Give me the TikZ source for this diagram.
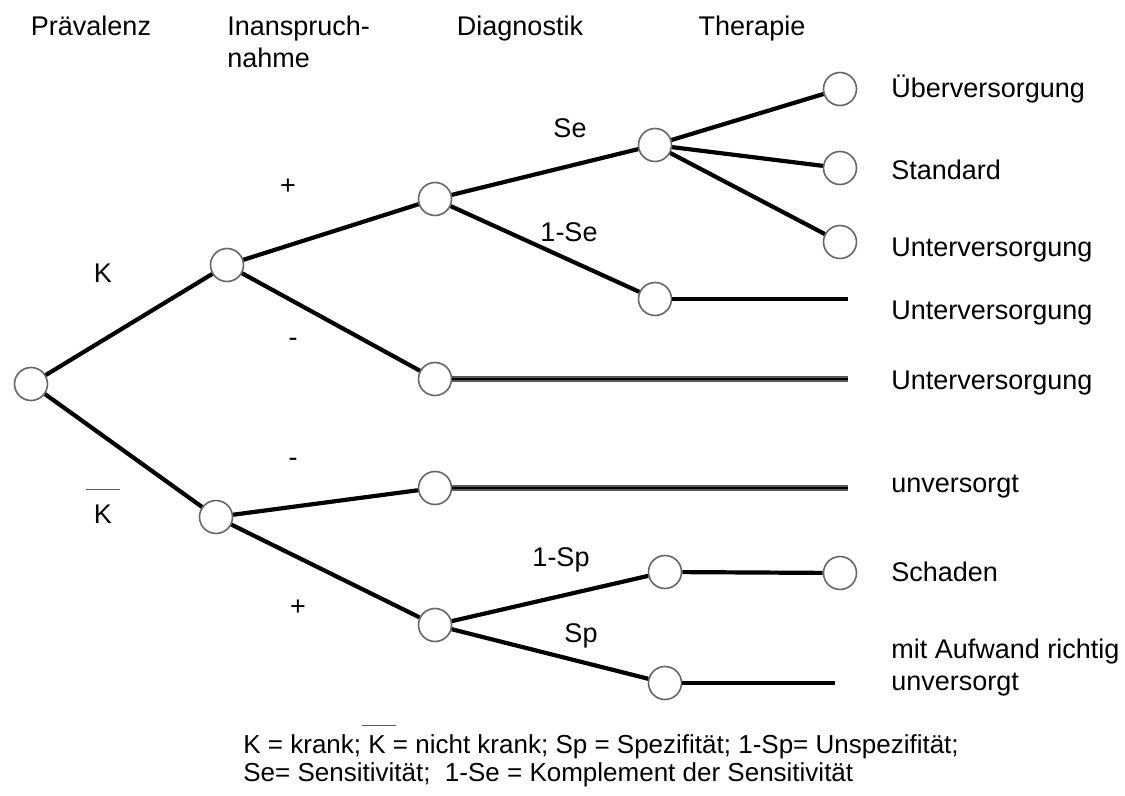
\documentclass[tikz,border=0pt]{standalone}
\usepackage{fontspec}
\setmainfont{Liberation Sans}
% K with an overbar, used in the legend
\newcommand\overK{\makebox[0pt][l]{\hspace{-3pt}\raisebox{13.5pt}{\color{black!65}\rule{17pt}{0.7pt}}}K}
\begin{document}
\begin{tikzpicture}[x=0.5pt,y=-0.5pt,
  state/.style={circle,draw=black!60,line width=0.8pt,minimum size=16.5pt,inner sep=0pt,fill=white},
  branch/.style={line width=2.1pt,black},
  outer/.style={line width=2.6pt,black!65},
  inner/.style={line width=0.9pt,black},
  lbl/.style={font=\fontsize{13.5}{16}\selectfont,inner sep=0pt},
  head/.style={lbl,anchor=base},
  leaf/.style={lbl,anchor=west},
  legend/.style={font=\fontsize{13}{15}\selectfont,inner sep=0pt,anchor=base west}]
\useasboundingbox (0,0) rectangle (1125,796);

% column headings
\node[head] (hprev) at (91,36) {Prävalenz};
\node[head,anchor=base west] (hinan1) at (227,36) {Inanspruch-};
\node[head,anchor=base west] (hinan2) at (227,68) {nahme};
\node[head] (hdiag) at (520,36) {Diagnostik};
\node[head] (hther) at (752,36) {Therapie};

% decision nodes
\node[state] (r)   at (31,384) {};
\node[state] (k)   at (227,265) {};
\node[state] (nk)  at (216,517) {};
\node[state] (kp)  at (435,199) {};
\node[state] (km)  at (435,379) {};
\node[state] (nkm) at (435,488) {};
\node[state] (nkp) at (435,625) {};
\node[state] (se)  at (655,145) {};
\node[state] (nse) at (655,299) {};
\node[state] (nsp) at (665,572) {};
\node[state] (sp)  at (665,683) {};
\node[state] (l1)  at (840,89) {};
\node[state] (l2)  at (840,168) {};
\node[state] (l3)  at (840,242) {};
\node[state] (l4)  at (840,573) {};

% free ends of the open branches
\coordinate (e1) at (848,299);
\coordinate (e2) at (848,379);
\coordinate (e3) at (848,488);
\coordinate (e4) at (835,683);

% branches
\draw[branch] (r) -- (k);
\draw[branch] (r) -- (nk);
\draw[branch] (k) -- (kp);
\draw[branch] (k) -- (km);
\draw[branch] (nk) -- (nkm);
\draw[branch] (nk) -- (nkp);
\draw[branch] (kp) -- (se);
\draw[branch] (kp) -- (nse);
\draw[branch] (se) -- (l1);
\draw[branch] (se) -- (l2);
\draw[branch] (se) -- (l3);
\draw[branch] (nse) -- (e1);
\draw[outer] (km) -- (e2);
\draw[inner] (km) -- (e2);
\draw[outer] (nkm) -- (e3);
\draw[inner] (nkm) -- (e3);
\draw[branch] (nkp) -- (nsp);
\draw[branch] (nkp) -- (sp);
\draw[branch] (nsp) -- (l4);
\draw[branch] (sp) -- (e4);

% branch labels
\node[lbl] (lk) at (103,273) {K};
\node[lbl] (lnk) at (103,514) {K};
\draw[black!65,line width=0.8pt] ([xshift=-4pt,yshift=7.5pt]lnk.north west) -- ([xshift=4pt,yshift=7.5pt]lnk.north east);
\node[lbl] (lkp) at (288,187) {+};
\node[lbl] (lkm) at (293,342) {-};
\node[lbl] (lnkm) at (293,462) {-};
\node[lbl] (lnkp) at (298,608) {+};
\node[lbl] (lse) at (570,128) {Se};
\node[lbl] (lnse) at (569,232) {1-Se};
\node[lbl] (lnsp) at (561,560) {1-Sp};
\node[lbl] (lsp) at (581,636) {Sp};

% outcomes
\node[leaf] (o1) at (891,89) {Überversorgung};
\node[leaf] (o2) at (891,170) {Standard};
\node[leaf] (o3) at (891,250) {Unterversorgung};
\node[leaf] (o4) at (891,313) {Unterversorgung};
\node[leaf] (o5) at (891,383) {Unterversorgung};
\node[leaf] (o6) at (891,487) {unversorgt};
\node[leaf] (o7) at (891,572) {Schaden};
\node[leaf] (o8) at (891,652) {mit Aufwand richtig};
\node[leaf] (o9) at (891,685) {unversorgt};

% legend
\node[legend] (leg1) at (243,753) {K = krank; \overK{} = nicht krank; Sp = Spezifität; 1-Sp= Unspezifität;};
\node[legend] (leg2) at (243,781) {Se= Sensitivität;\ \ 1-Se = Komplement der Sensitivität};
\end{tikzpicture}
\end{document}
